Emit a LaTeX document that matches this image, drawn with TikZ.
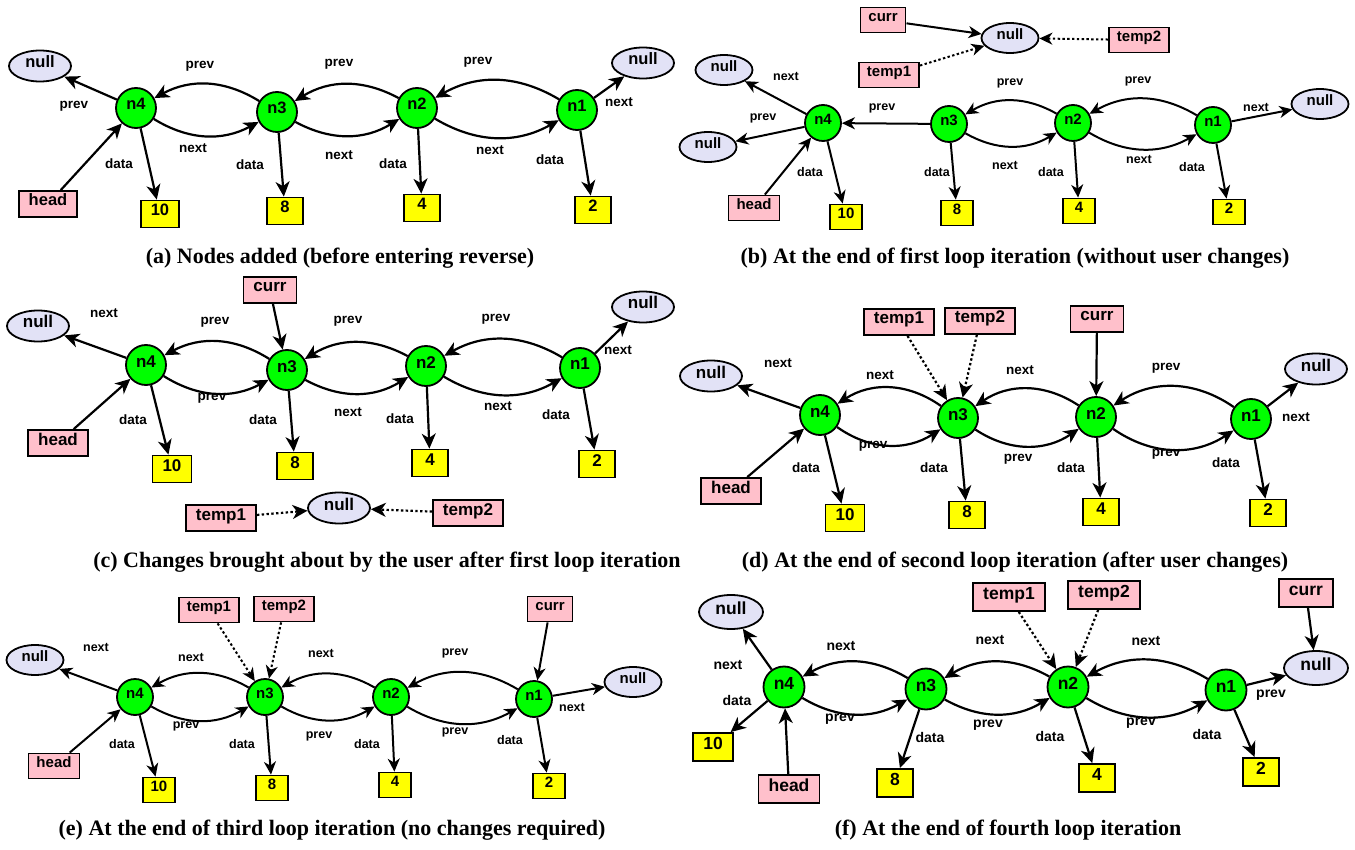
\documentclass[tikz,border=0pt]{standalone}
\usepackage{fontspec}
\setmainfont{Liberation Serif}
\newfontfamily\hv{Liberation Sans}
\usetikzlibrary{arrows.meta,shapes.geometric}
\definecolor{ngreen}{HTML}{00FF00}
\definecolor{nlav}{HTML}{E2E2F6}
\definecolor{npink}{HTML}{FFC0CB}
\definecolor{nyel}{HTML}{FFFF00}
\tikzset{
  nf/.style={font=\hv\bfseries\fontsize{17}{17}\selectfont, text height=11.5pt, text depth=7.5pt},
  nd/.style={nf, circle, draw, line width=1.8pt, fill=ngreen, minimum size=40pt, inner sep=0pt},
  nl/.style={nf, ellipse, draw, line width=1.8pt, fill=nlav, minimum width=62pt, minimum height=31pt, inner sep=0pt},
  ptr/.style={nf, rectangle, draw, line width=1.8pt, fill=npink, minimum height=26pt, inner xsep=10pt, inner ysep=0pt},
  val/.style={nf, rectangle, draw, line width=1.8pt, fill=nyel, minimum width=36pt, minimum height=27pt, inner xsep=10pt, inner ysep=0pt},
  arr/.style={-{Stealth[length=15pt,width=14pt,inset=4.5pt]}, line width=2.2pt},
  dotarr/.style={arr, dash pattern=on 2.4pt off 2.4pt},
  lab/.style={inner sep=0pt, font=\hv\bfseries\fontsize{13.5}{13.5}\selectfont},
  capt/.style={inner sep=0pt, font=\bfseries\fontsize{22}{22}\selectfont},
  small/.style={
    nf/.append style={font=\hv\bfseries\fontsize{15}{15}\selectfont, text height=10pt, text depth=6.5pt},
    nd/.append style={minimum size=36pt},
    nl/.append style={minimum width=57pt, minimum height=30pt},
    ptr/.append style={minimum height=25pt, inner xsep=8pt},
    val/.append style={minimum width=32pt, minimum height=25pt, inner xsep=8pt},
    arr/.append style={-{Stealth[length=13pt,width=12pt,inset=4pt]}, line width=2pt},
    lab/.append style={font=\hv\bfseries\fontsize{12.5}{12.5}\selectfont}
  }
}
\begin{document}
\begin{tikzpicture}[x=1pt,y=-1pt]
\useasboundingbox (0,0) rectangle (1355,850);

% ================= (a) =================
\begin{scope}[nf/.append style={font=\hv\bfseries\fontsize{16.5}{16.5}\selectfont}]
\node[nl] (anl) at (40,66) {null};
\node[nd] (a4) at (136,108) {n4};
\node[nd] (a3) at (277,112) {n3};
\node[nd] (a2) at (417,108) {n2};
\node[nd] (a1) at (577,110) {n1};
\node[nl] (anr) at (643,63) {null};
\node[ptr] (ah) at (48,204) {head};
\node[val] (a10) at (160,214) {10};
\node[val] (a8) at (285,211) {8};
\node[val] (a4v) at (422,208) {4};
\node[val] (a2v) at (593,210) {2};
\draw[arr] (a4) -- (anl) node[lab] at (74,106) {prev};
\draw[arr] (a3) to[bend right=30] (a4) node[lab] at (200,66) {prev};
\draw[arr] (a4) to[bend right=30] (a3) node[lab] at (193,148) {next};
\draw[arr] (a2) to[bend right=30] (a3) node[lab] at (339,64) {prev};
\draw[arr] (a3) to[bend right=30] (a2) node[lab] at (339,155) {next};
\draw[arr] (a1) to[bend right=30] (a2) node[lab] at (478,62) {prev};
\draw[arr] (a2) to[bend right=30] (a1) node[lab] at (490,150) {next};
\draw[arr] (a1) -- (anr) node[lab] at (619,102) {next};
\draw[arr] (ah) -- (a4);
\draw[arr] (a4) -- (a10) node[lab] at (119,164) {data};
\draw[arr] (a3) -- (a8) node[lab] at (250,165) {data};
\draw[arr] (a2) -- (a4v) node[lab] at (393,164) {data};
\draw[arr] (a1) -- (a2v) node[lab] at (550,160) {data};
\node[capt] (capa) at (340,258) {(a) Nodes added (before entering reverse)};
\end{scope}

% ================= (b) =================
\begin{scope}[small]
\node[ptr] (bcurr) at (883,20) {curr};
\node[ptr] (bt1) at (889,75) {temp1};
\node[nl] (bnt) at (1010,38) {null};
\node[ptr] (bt2) at (1139,40) {temp2};
\node[nl] (bnu) at (724,70) {null};
\node[nl] (bnd) at (708,147) {null};
\node[nd] (b4) at (823,123) {n4};
\node[nd] (b3) at (949,124) {n3};
\node[nd] (b2) at (1073,123) {n2};
\node[nd] (b1) at (1213,125) {n1};
\node[nl] (bnr) at (1320,104) {null};
\node[ptr] (bh) at (754,208) {head};
\node[val] (b10) at (846,217) {10};
\node[val] (b8) at (957,213) {8};
\node[val] (b4v) at (1079,211) {4};
\node[val] (b2v) at (1229,212) {2};
\draw[arr] (b4) -- (bnu) node[lab] at (786,76) {next};
\draw[arr] (b4) -- (bnd) node[lab] at (763,118) {prev};
\draw[arr] (b3) -- (b4) node[lab] at (882,108) {prev};
\draw[arr] (b2) to[bend right=30] (b3) node[lab] at (1010,83) {prev};
\draw[arr] (b3) to[bend right=30] (b2) node[lab] at (1005,165) {next};
\draw[arr] (b1) to[bend right=30] (b2) node[lab] at (1138,81) {prev};
\draw[arr] (b2) to[bend right=30] (b1) node[lab] at (1139,159) {next};
\draw[arr] (b1) -- (bnr) node[lab] at (1256,107) {next};
\draw[arr] (bh) -- (b4);
\draw[arr] (b4) -- (b10) node[lab] at (810,172) {data};
\draw[arr] (b3) -- (b8) node[lab] at (937,172) {data};
\draw[arr] (b2) -- (b4v) node[lab] at (1051,172) {data};
\draw[arr] (b1) -- (b2v) node[lab] at (1192,167) {data};
\draw[arr] (bcurr) -- (bnt);
\draw[dotarr] (bt1) -- (bnt);
\draw[dotarr] (bt2) -- (bnt);
\node[capt] (capb) at (1015,258) {(b) At the end of first loop iteration (without user changes)};
\end{scope}

% ================= (c) =================
\begin{scope}
\node[ptr] (ccurr) at (270,290) {curr};
\node[nl] (cnl) at (38,326) {null};
\node[nd] (c4) at (146,365) {n4};
\node[nd] (c3) at (287,370) {n3};
\node[nd] (c2) at (426,366) {n2};
\node[nd] (c1) at (580,368) {n1};
\node[nl] (cnr) at (643,307) {null};
\node[ptr] (ch) at (58,443) {head};
\node[val] (c10) at (172,469) {10};
\node[val] (c8) at (295,466) {8};
\node[val] (c4v) at (430,463) {4};
\node[val] (c2v) at (597,464) {2};
\node[nl] (cnb) at (339,508) {null};
\node[ptr] (ct1) at (221,518) {temp1};
\node[ptr] (ct2) at (468,513) {temp2};
\draw[arr] (c4) -- (cnl) node[lab] at (104,313) {next};
\draw[arr] (c3) to[bend right=30] (c4) node[lab] at (215,322) {prev};
\draw[arr] (c4) to[bend right=30] (c3) node[lab] at (212,398) {prev};
\draw[arr] (c2) to[bend right=30] (c3) node[lab] at (348,321) {prev};
\draw[arr] (c3) to[bend right=30] (c2) node[lab] at (348,412) {next};
\draw[arr] (c1) to[bend right=30] (c2) node[lab] at (496,319) {prev};
\draw[arr] (c2) to[bend right=30] (c1) node[lab] at (498,406) {next};
\draw[arr] (c1) -- (cnr) node[lab] at (618,350) {next};
\draw[arr] (ch) -- (c4);
\draw[arr] (c4) -- (c10) node[lab] at (133,420) {data};
\draw[arr] (c3) -- (c8) node[lab] at (263,420) {data};
\draw[arr] (c2) -- (c4v) node[lab] at (400,419) {data};
\draw[arr] (c1) -- (c2v) node[lab] at (556,415) {data};
\draw[arr] (ccurr) -- (c3);
\draw[dotarr] (ct1) -- (cnb);
\draw[dotarr] (ct2) -- (cnb);
\node[capt] (capc) at (387,562) {(c) Changes brought about by the user after first loop iteration};
\end{scope}

% ================= (d) =================
\begin{scope}
\node[ptr] (dt1) at (899,322) {temp1};
\node[ptr] (dt2) at (980,321) {temp2};
\node[ptr] (dcurr) at (1097,319) {curr};
\node[nl] (dnl) at (711,376) {null};
\node[nd] (d4) at (820,415) {n4};
\node[nd] (d3) at (958,418) {n3};
\node[nd] (d2) at (1096,417) {n2};
\node[nd] (d1) at (1251,419) {n1};
\node[nl] (dnr) at (1316,369) {null};
\node[ptr] (dh) at (731,491) {head};
\node[val] (d10) at (845,518) {10};
\node[val] (d8) at (967,515) {8};
\node[val] (d4v) at (1101,512) {4};
\node[val] (d2v) at (1268,513) {2};
\draw[arr] (d4) -- (dnl) node[lab] at (778,363) {next};
\draw[arr] (d3) to[bend right=34] (d4) node[lab] at (880,375) {next};
\draw[arr] (d4) to[bend right=34] (d3) node[lab] at (873,446) {prev};
\draw[arr] (d2) to[bend right=34] (d3) node[lab] at (1020,370) {next};
\draw[arr] (d3) to[bend right=34] (d2) node[lab] at (1018,459) {prev};
\draw[arr] (d1) to[bend right=34] (d2) node[lab] at (1166,368) {prev};
\draw[arr] (d2) to[bend right=34] (d1) node[lab] at (1166,454) {prev};
\draw[arr] (d1) -- (dnr) node[lab] at (1296,417) {next};
\draw[arr] (dh) -- (d4);
\draw[arr] (d4) -- (d10) node[lab] at (806,468) {data};
\draw[arr] (d3) -- (d8) node[lab] at (934,468) {data};
\draw[arr] (d2) -- (d4v) node[lab] at (1071,468) {data};
\draw[arr] (d1) -- (d2v) node[lab] at (1226,463) {data};
\draw[dotarr] (dt1) -- (d3);
\draw[dotarr] (dt2) -- (d3);
\draw[arr] (dcurr) -- (d2);
\node[capt] (capd) at (1015,562) {(d) At the end of second loop iteration (after user changes)};
\end{scope}

% ================= (e) =================
\begin{scope}[small]
\node[ptr] (et1) at (209,610) {temp1};
\node[ptr] (et2) at (284,609) {temp2};
\node[ptr] (ecurr) at (550,609) {curr};
\node[nl] (enl) at (35,660) {null};
\node[nd] (e4) at (135,697) {n4};
\node[nd] (e3) at (265,697) {n3};
\node[nd] (e2) at (391,697) {n2};
\node[nd] (e1) at (534,699) {n1};
\node[nl] (enr) at (633,682) {null};
\node[ptr] (eh) at (54,766) {head};
\node[val] (e10) at (159,790) {10};
\node[val] (e8) at (272,788) {8};
\node[val] (e4v) at (395,785) {4};
\node[val] (e2v) at (549,786) {2};
\draw[arr] (e4) -- (enl) node[lab] at (96,647) {next};
\draw[arr] (e3) to[bend right=30] (e4) node[lab] at (191,657) {next};
\draw[arr] (e4) to[bend right=30] (e3) node[lab] at (186,726) {prev};
\draw[arr] (e2) to[bend right=30] (e3) node[lab] at (321,653) {next};
\draw[arr] (e3) to[bend right=30] (e2) node[lab] at (319,736) {prev};
\draw[arr] (e1) to[bend right=30] (e2) node[lab] at (455,653) {prev};
\draw[arr] (e2) to[bend right=30] (e1) node[lab] at (455,732) {prev};
\draw[arr] (e1) -- (enr) node[lab] at (572,707) {next};
\draw[arr] (eh) -- (e4);
\draw[arr] (e4) -- (e10) node[lab] at (122,744) {data};
\draw[arr] (e3) -- (e8) node[lab] at (242,744) {data};
\draw[arr] (e2) -- (e4v) node[lab] at (367,744) {data};
\draw[arr] (e1) -- (e2v) node[lab] at (510,740) {data};
\draw[dotarr] (et1) -- (e3);
\draw[dotarr] (et2) -- (e3);
\draw[arr] (ecurr) -- (e1);
\node[capt] (cape) at (332,830) {(e) At the end of third loop iteration (no changes required)};
\end{scope}

% ================= (f) =================
\begin{scope}[nf/.append style={font=\hv\bfseries\fontsize{17.5}{17.5}\selectfont, text height=11.5pt, text depth=7.5pt},
  nd/.append style={minimum size=41pt},
  nl/.append style={minimum width=64pt, minimum height=34pt},
  ptr/.append style={minimum height=28pt},
  val/.append style={minimum width=36pt, minimum height=28pt},
  lab/.append style={font=\hv\bfseries\fontsize{14}{14}\selectfont}]
\node[ptr] (ft1) at (1009,597) {temp1};
\node[ptr] (ft2) at (1104,595) {temp2};
\node[ptr] (fcurr) at (1306,593) {curr};
\node[nl] (fnl) at (731,612) {null};
\node[nd] (f4) at (784,687) {n4};
\node[nd] (f3) at (926,689) {n3};
\node[nd] (f2) at (1068,687) {n2};
\node[nd] (f1) at (1226,690) {n1};
\node[nl] (fnr) at (1316,668) {null};
\node[val] (f10) at (713,747) {10};
\node[ptr] (fh) at (789,789) {head};
\node[val] (f8) at (895,783) {8};
\node[val] (f4v) at (1097,778) {4};
\node[val] (f2v) at (1261,772) {2};
\draw[arr] (f4) -- (fnl) node[lab] at (728,665) {next};
\draw[arr] (f3) to[bend right=30] (f4) node[lab] at (841,646) {next};
\draw[arr] (f4) to[bend right=30] (f3) node[lab] at (840,719) {prev};
\draw[arr] (f2) to[bend right=30] (f3) node[lab] at (990,640) {next};
\draw[arr] (f3) to[bend right=30] (f2) node[lab] at (988,725) {prev};
\draw[arr] (f1) to[bend right=30] (f2) node[lab] at (1146,641) {next};
\draw[arr] (f2) to[bend right=30] (f1) node[lab] at (1141,723) {prev};
\draw[arr] (f1) -- (fnr) node[lab] at (1271,695) {prev};
\draw[arr] (fh) -- (f4);
\draw[arr] (f4) -- (f10) node[lab] at (737,700) {data};
\draw[arr] (f3) -- (f8) node[lab] at (930,737) {data};
\draw[arr] (f2) -- (f4v) node[lab] at (1050,736) {data};
\draw[arr] (f1) -- (f2v) node[lab] at (1207,734) {data};
\draw[arr] (fcurr) -- (fnr);
\draw[dotarr] (ft1) -- (f2);
\draw[dotarr] (ft2) -- (f2);
\node[capt] (capf) at (1008,830) {(f) At the end of fourth loop iteration};
\end{scope}
\end{tikzpicture}
\end{document}
